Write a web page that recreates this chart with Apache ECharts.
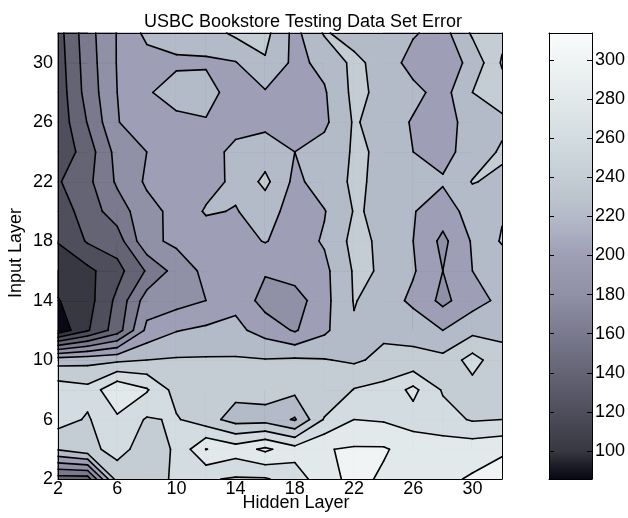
<!DOCTYPE html>
<html><head><meta charset="utf-8">
<script src="https://cdn.jsdelivr.net/npm/echarts@6/dist/echarts.min.js"></script>
<style>html,body{margin:0;padding:0;background:#fff}#c{width:628px;height:518px}</style>
</head><body><div id="c"></div>
<script>
// ---- data ----
const hiddenLayer = [2,4,6,8,10,12,14,16,18,20,22,24,26,28,30,32];
const inputLayer  = [2,4,6,8,10,12,14,16,18,20,22,24,26,28,30,32];
// testing-set error, one array per input-layer value (columns: hidden layer 2..32)
const errIn2  = [150,150,250,246,265,262,258,258,270,292,306,297,297,296,302,312];
const errIn4  = [242,255,266,252,262,300.5,290,304,288,299,302,302,292,290,292,296];
const errIn6  = [268,258,276,258,262,248,232,232,218,262,280,278,272,268,258,260];
const errIn8  = [272,266,298,282,252,243,246,248,245,240,261,266,285,258,252,250];
const errIn10 = [232,234,236,240,242,242,242,241,243,241,237,245,245,246,268,246];
const errIn12 = [86,118,150,205,219,224,225,212,198,216,238,236,234,220,234,236];
const errIn14 = [99,112,145,190,192,200,215,192,190,214,241,232,215,195,212,225];
const errIn16 = [108,115,133,162,188,205,208,202,210,215,242,239,222,200,220,225];
const errIn18 = [121,142,150,195,204,208,213,221,211,222,246,236,220,195,222,242];
const errIn20 = [128,150,170,193,206,222,219,228,212,219,241,238,221,210,228,238];
const errIn22 = [138,155,183,203,210,213,224,245,215,230,243,236,230,222,241,236];
const errIn24 = [125,150,187,200,210,212,225,230,220,228,242,238,220,214,228,243];
const errIn26 = [127,161,199,212,215,218,213,215,212,216,242,232,218,210,230,235];
const errIn28 = [128,168,200,218,228,230,208,218,215,218,245,235,226,212,240,252];
const errIn30 = [130,170,201,212,217,217,219,238,215,225,245,232,212,208,226,262];
const errIn32 = [132,172,201,225,228,231,244,246,214,242,232,230,222,212,243,255];
const contourLevels = [100,120,140,160,180,200,220,240,260,280,300];
const xTickLabels = [2,6,10,14,18,22,26,30];
const yTickLabels = [2,6,10,14,18,22,26,30];
const colorbarTicks = [100,120,140,160,180,200,220,240,260,280,300];
const colorbarRange = [85.7, 313.8];
const zRows = [errIn2,errIn4,errIn6,errIn8,errIn10,errIn12,errIn14,errIn16,errIn18,errIn20,errIn22,errIn24,errIn26,errIn28,errIn30,errIn32];

// ---- colormap (bone-like, as in the figure) ----
const cmapStops = [
  [86,[8,8,22]],[93,[30,30,40]],[100,[56,56,66]],[120,[78,78,92]],[140,[100,100,117]],
  [160,[122,121,142]],[180,[144,144,166]],[200,[158,158,182]],[220,[180,187,200]],
  [240,[196,205,212]],[260,[211,220,224]],[280,[226,233,234]],[300,[240,244,244]],[314,[250,252,252]]
];
function rgb(c){return 'rgb('+c.map(x=>Math.round(x)).join(',')+')';}
function cmap(v){
  if (v <= cmapStops[0][0]) return rgb(cmapStops[0][1]);
  for (let k=1;k<cmapStops.length;k++){
    if (v <= cmapStops[k][0]){
      const a=cmapStops[k-1], b=cmapStops[k], t=(v-a[0])/(b[0]-a[0]);
      return rgb(a[1].map((c,n)=>c+t*(b[1][n]-c)));
    }
  }
  return rgb(cmapStops[cmapStops.length-1][1]);
}
const zMin = Math.min.apply(null, zRows.flat());
const bandColors = [cmap(zMin)].concat(contourLevels.map(v=>cmap(v)));
function bandOf(v){let b=0; for (const L of contourLevels) if (v>=L) b++; return b;}
function clipAbove(poly, L){
  const out=[];
  for (let k=0;k<poly.length;k++){
    const a=poly[k], b=poly[(k+1)%poly.length];
    const ia=a[2]>=L, ib=b[2]>=L;
    if (ia) out.push(a);
    if (ia!==ib){const t=(L-a[2])/(b[2]-a[2]); out.push([a[0]+t*(b[0]-a[0]), a[1]+t*(b[1]-a[1]), L]);}
  }
  return out;
}
function cellCorners(i,j){
  const x0=hiddenLayer[i], x1=hiddenLayer[i+1], y0=inputLayer[j], y1=inputLayer[j+1];
  return [[x0,y0,zRows[j][i]],[x1,y0,zRows[j][i+1]],[x1,y1,zRows[j+1][i+1]],[x0,y1,zRows[j+1][i]]];
}
const cells=[];
for (let j=0;j<inputLayer.length-1;j++) for (let i=0;i<hiddenLayer.length-1;i++)
  cells.push([(hiddenLayer[i]+hiddenLayer[i+1])/2,(inputLayer[j]+inputLayer[j+1])/2,i,j]);

function renderFill(params, api){
  const i=api.value(2), j=api.value(3);
  const q=cellCorners(i,j);
  const vs=q.map(p=>p[2]);
  const bmin=bandOf(Math.min.apply(null,vs)), bmax=bandOf(Math.max.apply(null,vs));
  const toPts=poly=>poly.map(p=>api.coord([p[0],p[1]]));
  const st=c=>({fill:c,stroke:c,lineWidth:1.2,lineJoin:'round'});
  const children=[{type:'polygon',shape:{points:toPts(q)},style:st(bandColors[bmin])}];
  for (let b=bmin+1;b<=bmax;b++){
    const poly=clipAbove(q, contourLevels[b-1]);
    if (poly.length<3) continue;
    children.push({type:'polygon',shape:{points:toPts(poly)},style:st(bandColors[b])});
  }
  return {type:'group',children};
}
function renderLines(params, api){
  const i=api.value(2), j=api.value(3);
  const c=cellCorners(i,j);
  const children=[];
  for (const L of contourLevels){
    const inside=c.map(p=>p[2]>=L);
    const cross=[]; let n=0;
    for (let e=0;e<4;e++){
      const a=c[e], b=c[(e+1)%4];
      if (inside[e]!==inside[(e+1)%4]){const t=(L-a[2])/(b[2]-a[2]); cross[e]=[a[0]+t*(b[0]-a[0]), a[1]+t*(b[1]-a[1])]; n++;}
    }
    const segs=[];
    if (n===2){const es=[0,1,2,3].filter(e=>cross[e]); segs.push([cross[es[0]],cross[es[1]]]);}
    else if (n===4){for (let k=0;k<4;k++) if(!inside[k]) segs.push([cross[(k+3)%4],cross[k]]);}
    for (const s of segs){
      const p1=api.coord(s[0]), p2=api.coord(s[1]);
      children.push({type:'line',shape:{x1:p1[0],y1:p1[1],x2:p2[0],y2:p2[1]},style:{stroke:'#000',lineWidth:1.6,lineCap:'round'}});
    }
  }
  return {type:'group',children};
}
function renderColorbar(params, api){
  const p1=api.coord([0,colorbarRange[1]]), p2=api.coord([1,colorbarRange[0]]);
  const span=colorbarRange[1]-colorbarRange[0];
  const stops=cmapStops.map(s=>({offset:Math.min(1,Math.max(0,(s[0]-colorbarRange[0])/span)),color:rgb(s[1])}));
  return {type:'rect',shape:{x:p1[0],y:p1[1],width:p2[0]-p1[0],height:p2[1]-p1[1]},
    style:{fill:new echarts.graphic.LinearGradient(0,1,0,0,stops)}};
}
const FONT='"Liberation Sans", Arial, Helvetica, sans-serif';
const lineOnly=(extra)=>Object.assign({type:'value',z:10,axisLabel:{show:false},axisTick:{show:false},splitLine:{show:false},
  axisLine:{show:true,onZero:false,lineStyle:{color:'#000',width:1}}},extra);
const option={
  animation:false, backgroundColor:'#fff',
  title:{text:'USBC Bookstore Testing Data Set Error',left:298,top:8,textAlign:'center',
    textStyle:{fontFamily:FONT,fontSize:18,fontWeight:'normal',color:'#000'}},
  grid:[{left:58,top:33,width:444,height:446,containLabel:false,outerBoundsMode:'none'},
        {left:549,top:33,width:43,height:446,containLabel:false,outerBoundsMode:'none'}],
  xAxis:[
    lineOnly({gridIndex:0,position:'bottom',min:2,max:32,
      axisLabel:{show:true,customValues:xTickLabels,margin:1,fontFamily:FONT,fontSize:18,color:'#000'},
      name:'Hidden Layer',nameLocation:'middle',nameGap:15,nameMoveOverlap:false,
      nameTextStyle:{fontFamily:FONT,fontSize:18,color:'#000',verticalAlign:'top',padding:[0,0,0,32]}}),
    lineOnly({gridIndex:0,position:'top',min:2,max:32}),
    lineOnly({gridIndex:1,position:'bottom',min:0,max:1}),
    lineOnly({gridIndex:1,position:'top',min:0,max:1})
  ],
  yAxis:[
    lineOnly({gridIndex:0,position:'left',min:2,max:32,
      axisLabel:{show:true,customValues:yTickLabels,margin:5,fontFamily:FONT,fontSize:18,color:'#000'},
      name:'Input Layer',nameLocation:'middle',nameGap:33,nameRotate:90,nameMoveOverlap:false,
      nameTextStyle:{fontFamily:FONT,fontSize:18,color:'#000',padding:[0,0,0,6]}}),
    lineOnly({gridIndex:0,position:'right',min:2,max:32}),
    lineOnly({gridIndex:1,position:'left',min:colorbarRange[0],max:colorbarRange[1],
      axisTick:{show:true,inside:true,length:5,customValues:colorbarTicks,lineStyle:{color:'#000'}}}),
    lineOnly({gridIndex:1,position:'right',min:colorbarRange[0],max:colorbarRange[1],
      axisLabel:{show:true,customValues:colorbarTicks,margin:3,fontFamily:FONT,fontSize:18,color:'#000'},
      axisTick:{show:true,inside:true,length:5,customValues:colorbarTicks,lineStyle:{color:'#000'}}})
  ],
  series:[
    {type:'custom',xAxisIndex:0,yAxisIndex:0,z:2,silent:true,renderItem:renderFill,data:cells,dimensions:['x','y','i','j'],encode:{x:0,y:1}},
    {type:'custom',xAxisIndex:0,yAxisIndex:0,z:3,silent:true,renderItem:renderLines,data:cells,dimensions:['x','y','i','j'],encode:{x:0,y:1}},
    {type:'custom',xAxisIndex:2,yAxisIndex:3,z:2,silent:true,renderItem:renderColorbar,data:[[0.5,200]],encode:{x:0,y:1}}
  ]
};
echarts.init(document.getElementById('c')).setOption(option);
</script></body></html>
